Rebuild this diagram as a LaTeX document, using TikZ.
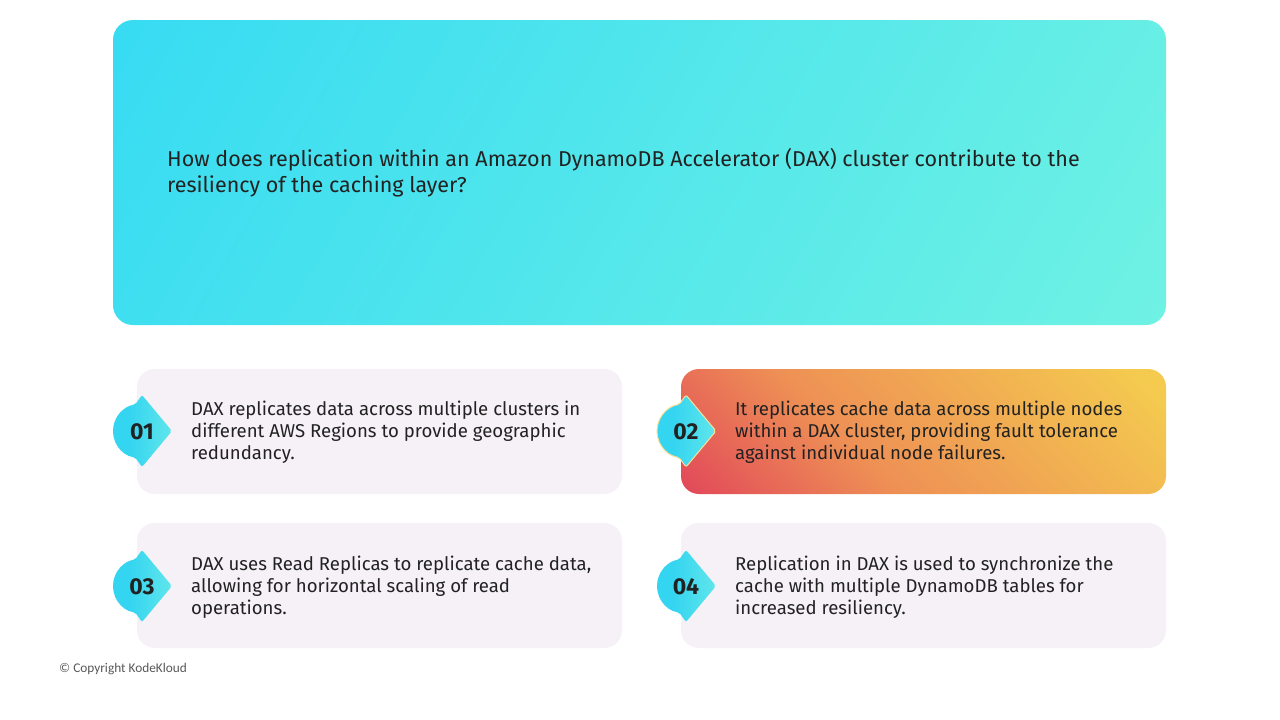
\documentclass[tikz,border=0pt]{standalone}
\usepackage{fontspec}
\setmainfont{Fira Sans}
\newfontfamily\copyfont{Carlito}
\definecolor{txt}{HTML}{222222}
\definecolor{cardbg}{HTML}{F5F1F7}
\definecolor{qa}{HTML}{2AD6F6}
\definecolor{qb}{HTML}{7CF7E0}
\definecolor{wred}{HTML}{E0405A}
\definecolor{worange}{HTML}{EE9055}
\definecolor{wyellow}{HTML}{F4CB4F}
\definecolor{ba}{HTML}{34D5F0}
\definecolor{bb}{HTML}{80F1E8}
\pgfdeclarehorizontalshading{coolshade}{100bp}{color(0bp)=(qa); color(100bp)=(qb)}
\pgfdeclarehorizontalshading{warmshade}{100bp}{color(0bp)=(wred); color(12bp)=(wred); color(40bp)=(worange); color(82bp)=(wyellow); color(100bp)=(wyellow)}
\pgfdeclarehorizontalshading{badgeshade}{100bp}{color(0bp)=(ba); color(40bp)=(ba); color(100bp)=(bb)}
\tikzset{
  cardbox/.style={fill=cardbg, rounded corners=18pt},
  cardtext/.style={anchor=west, align=left, text=txt, inner sep=0pt, font=\fontsize{18.6}{22}\selectfont},
  numtext/.style={text=txt, inner sep=0pt, font=\fontsize{23}{26}\selectfont\bfseries},
  badgefill/.style={shading=badgeshade, shading angle=0, rounded corners=2pt}
}
\begin{document}
\begin{tikzpicture}[x=1pt,y=-1pt]
\useasboundingbox[fill=white] (0,0) rectangle (1280,720);
% question box
\path[shading=coolshade, shading angle=-30, rounded corners=20pt] (113,20) rectangle (1166,325);
\node[anchor=west, align=left, text=txt, inner sep=0pt, font=\fontsize{21.5}{26}\selectfont] (q) at (167,173)
 {How does replication within an Amazon DynamoDB Accelerator (DAX) cluster contribute to the\\resiliency of the caching layer?};
% cards
\path[cardbox] (137,369) rectangle (622,494);
\path[shading=warmshade, shading angle=45, rounded corners=18pt] (681,369) rectangle (1166,494);
\path[cardbox] (137,523) rectangle (622,648);
\path[cardbox] (681,523) rectangle (1166,648);
% badges
\path[badgefill] (142,395) -- (172,431) -- (142,467) -- (135.3,457.6) arc[start angle=100, end angle=260, radius=27] -- cycle;
\node[numtext] (n1) at (142,432) {01};
\path[badgefill, draw=wyellow!60!white, line width=1pt] (686,395) -- (716,431) -- (686,467) -- (679.3,457.6) arc[start angle=100, end angle=260, radius=27] -- cycle;
\node[numtext] (n2) at (686,432) {02};
\path[badgefill] (142,550) -- (172,586) -- (142,622) -- (135.3,612.6) arc[start angle=100, end angle=260, radius=27] -- cycle;
\node[numtext] (n3) at (142,587) {03};
\path[badgefill] (686,550) -- (716,586) -- (686,622) -- (679.3,612.6) arc[start angle=100, end angle=260, radius=27] -- cycle;
\node[numtext] (n4) at (686,587) {04};
% texts
\node[cardtext] (t1) at (191,432) {DAX replicates data across multiple clusters in\\different AWS Regions to provide geographic\\redundancy.};
\node[cardtext] (t2) at (735,432) {It replicates cache data across multiple nodes\\within a DAX cluster, providing fault tolerance\\against individual node failures.};
\node[cardtext] (t3) at (191,587) {DAX uses Read Replicas to replicate cache data,\\allowing for horizontal scaling of read\\operations.};
\node[cardtext] (t4) at (735,587) {Replication in DAX is used to synchronize the\\cache with multiple DynamoDB tables for\\increased resiliency.};
\node[anchor=west, inner sep=0pt, text=black!65, font=\copyfont\fontsize{13.3}{15}\selectfont] (copy) at (59,669) {© Copyright KodeKloud};
\end{tikzpicture}
\end{document}
